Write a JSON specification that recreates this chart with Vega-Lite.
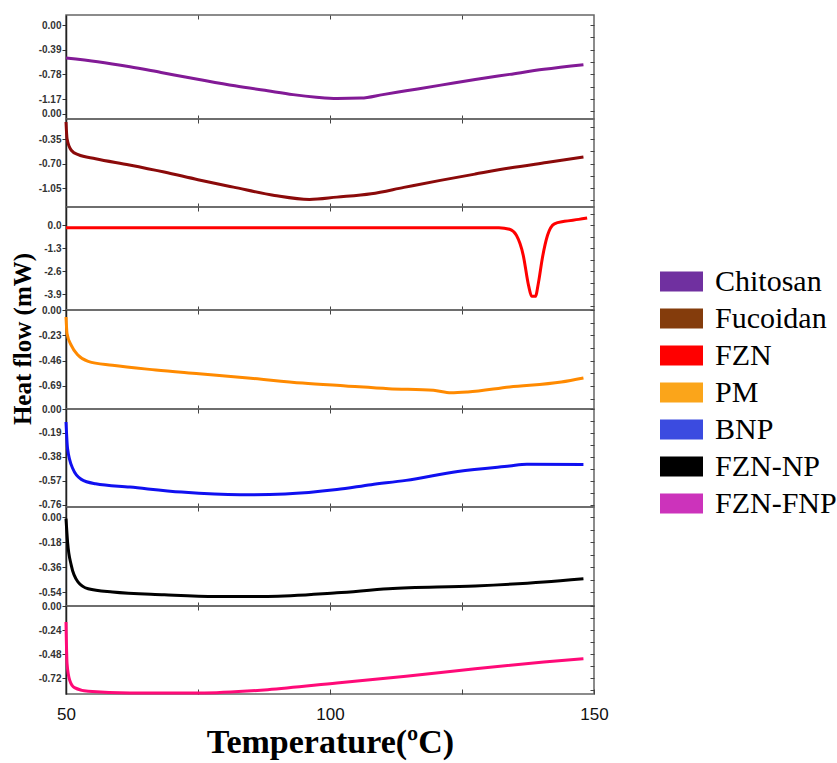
{
  "$schema": "https://vega.github.io/schema/vega-lite/v6.json",
  "background": "white",
  "padding": {"left": 9, "top": 13, "right": 240, "bottom": 5},
  "spacing": 0,
  "bounds": "flush",
  "datasets": {
    "dsc": [
      {"series": "Chitosan", "temp": 50, "heat": -0.52},
      {"series": "Chitosan", "temp": 56, "heat": -0.58},
      {"series": "Chitosan", "temp": 62.1, "heat": -0.66},
      {"series": "Chitosan", "temp": 68, "heat": -0.75},
      {"series": "Chitosan", "temp": 75.2, "heat": -0.86},
      {"series": "Chitosan", "temp": 82, "heat": -0.96},
      {"series": "Chitosan", "temp": 88.2, "heat": -1.04},
      {"series": "Chitosan", "temp": 93, "heat": -1.1},
      {"series": "Chitosan", "temp": 97.4, "heat": -1.14},
      {"series": "Chitosan", "temp": 101.3, "heat": -1.16},
      {"series": "Chitosan", "temp": 105.9, "heat": -1.155},
      {"series": "Chitosan", "temp": 110, "heat": -1.1},
      {"series": "Chitosan", "temp": 114.4, "heat": -1.04},
      {"series": "Chitosan", "temp": 121, "heat": -0.95},
      {"series": "Chitosan", "temp": 127.5, "heat": -0.86},
      {"series": "Chitosan", "temp": 134, "heat": -0.78},
      {"series": "Chitosan", "temp": 140.5, "heat": -0.7},
      {"series": "Chitosan", "temp": 148, "heat": -0.627},
      {"series": "Fucoidan", "temp": 50, "heat": -0.107},
      {"series": "Fucoidan", "temp": 50.2, "heat": -0.345},
      {"series": "Fucoidan", "temp": 51, "heat": -0.51},
      {"series": "Fucoidan", "temp": 52.3, "heat": -0.574},
      {"series": "Fucoidan", "temp": 55.6, "heat": -0.631},
      {"series": "Fucoidan", "temp": 62, "heat": -0.72},
      {"series": "Fucoidan", "temp": 68.6, "heat": -0.821},
      {"series": "Fucoidan", "temp": 75, "heat": -0.93},
      {"series": "Fucoidan", "temp": 81.7, "heat": -1.036},
      {"series": "Fucoidan", "temp": 89.5, "heat": -1.155},
      {"series": "Fucoidan", "temp": 96.1, "heat": -1.212},
      {"series": "Fucoidan", "temp": 101.3, "heat": -1.179},
      {"series": "Fucoidan", "temp": 107.8, "heat": -1.131},
      {"series": "Fucoidan", "temp": 114, "heat": -1.04},
      {"series": "Fucoidan", "temp": 120.9, "heat": -0.94},
      {"series": "Fucoidan", "temp": 127.5, "heat": -0.85},
      {"series": "Fucoidan", "temp": 134, "heat": -0.764},
      {"series": "Fucoidan", "temp": 141, "heat": -0.685},
      {"series": "Fucoidan", "temp": 148, "heat": -0.607},
      {"series": "FZN", "temp": 50, "heat": -0.15},
      {"series": "FZN", "temp": 132, "heat": -0.15},
      {"series": "FZN", "temp": 134, "heat": -0.24},
      {"series": "FZN", "temp": 135.3, "heat": -0.58},
      {"series": "FZN", "temp": 136.6, "heat": -1.71},
      {"series": "FZN", "temp": 137.6, "heat": -3.41},
      {"series": "FZN", "temp": 138.2, "heat": -4.03},
      {"series": "FZN", "temp": 138.9, "heat": -4.03},
      {"series": "FZN", "temp": 139.5, "heat": -3.22},
      {"series": "FZN", "temp": 140.2, "heat": -1.9},
      {"series": "FZN", "temp": 141.2, "heat": -0.58},
      {"series": "FZN", "temp": 142.5, "heat": 0.07},
      {"series": "FZN", "temp": 144.4, "heat": 0.21},
      {"series": "FZN", "temp": 147.1, "heat": 0.32},
      {"series": "FZN", "temp": 148.7, "heat": 0.4},
      {"series": "PM", "temp": 50, "heat": -0.064},
      {"series": "PM", "temp": 50.2, "heat": -0.215},
      {"series": "PM", "temp": 51, "heat": -0.321},
      {"series": "PM", "temp": 52.3, "heat": -0.412},
      {"series": "PM", "temp": 54.2, "heat": -0.467},
      {"series": "PM", "temp": 58.8, "heat": -0.503},
      {"series": "PM", "temp": 67, "heat": -0.545},
      {"series": "PM", "temp": 75.2, "heat": -0.579},
      {"series": "PM", "temp": 85, "heat": -0.62},
      {"series": "PM", "temp": 94.8, "heat": -0.664},
      {"series": "PM", "temp": 103, "heat": -0.69},
      {"series": "PM", "temp": 111.1, "heat": -0.715},
      {"series": "PM", "temp": 119.6, "heat": -0.73},
      {"series": "PM", "temp": 122.9, "heat": -0.752},
      {"series": "PM", "temp": 126.1, "heat": -0.745},
      {"series": "PM", "temp": 134, "heat": -0.7},
      {"series": "PM", "temp": 143.8, "heat": -0.655},
      {"series": "PM", "temp": 148, "heat": -0.618},
      {"series": "BNP", "temp": 50, "heat": -0.103},
      {"series": "BNP", "temp": 50.3, "heat": -0.315},
      {"series": "BNP", "temp": 51.3, "heat": -0.474},
      {"series": "BNP", "temp": 52.9, "heat": -0.558},
      {"series": "BNP", "temp": 55.6, "heat": -0.593},
      {"series": "BNP", "temp": 62.1, "heat": -0.619},
      {"series": "BNP", "temp": 71.9, "heat": -0.659},
      {"series": "BNP", "temp": 83, "heat": -0.68},
      {"series": "BNP", "temp": 91.5, "heat": -0.673},
      {"series": "BNP", "temp": 101.3, "heat": -0.638},
      {"series": "BNP", "temp": 107.8, "heat": -0.6},
      {"series": "BNP", "temp": 114.4, "heat": -0.566},
      {"series": "BNP", "temp": 124.2, "heat": -0.495},
      {"series": "BNP", "temp": 134, "heat": -0.452},
      {"series": "BNP", "temp": 137.3, "heat": -0.439},
      {"series": "BNP", "temp": 148, "heat": -0.44},
      {"series": "FZN-NP", "temp": 50, "heat": -0.012},
      {"series": "FZN-NP", "temp": 50.3, "heat": -0.18},
      {"series": "FZN-NP", "temp": 51, "heat": -0.348},
      {"series": "FZN-NP", "temp": 52.3, "heat": -0.468},
      {"series": "FZN-NP", "temp": 54.2, "heat": -0.516},
      {"series": "FZN-NP", "temp": 58.8, "heat": -0.54},
      {"series": "FZN-NP", "temp": 68.6, "heat": -0.559},
      {"series": "FZN-NP", "temp": 78.4, "heat": -0.571},
      {"series": "FZN-NP", "temp": 88.2, "heat": -0.571},
      {"series": "FZN-NP", "temp": 101.3, "heat": -0.545},
      {"series": "FZN-NP", "temp": 111.1, "heat": -0.516},
      {"series": "FZN-NP", "temp": 127.5, "heat": -0.496},
      {"series": "FZN-NP", "temp": 140.5, "heat": -0.468},
      {"series": "FZN-NP", "temp": 148, "heat": -0.444},
      {"series": "FZN-FNP", "temp": 50, "heat": -0.16},
      {"series": "FZN-FNP", "temp": 50.2, "heat": -0.577},
      {"series": "FZN-FNP", "temp": 50.7, "heat": -0.743},
      {"series": "FZN-FNP", "temp": 51.6, "heat": -0.817},
      {"series": "FZN-FNP", "temp": 54.2, "heat": -0.853},
      {"series": "FZN-FNP", "temp": 62.1, "heat": -0.87},
      {"series": "FZN-FNP", "temp": 75.2, "heat": -0.87},
      {"series": "FZN-FNP", "temp": 88.2, "heat": -0.837},
      {"series": "FZN-FNP", "temp": 101.3, "heat": -0.77},
      {"series": "FZN-FNP", "temp": 114.4, "heat": -0.703},
      {"series": "FZN-FNP", "temp": 127.5, "heat": -0.627},
      {"series": "FZN-FNP", "temp": 140.5, "heat": -0.56},
      {"series": "FZN-FNP", "temp": 148, "heat": -0.527}
    ]
  },
  "vconcat": [
    {
      "width": 528, "height": 104,
      "data": {"name": "dsc"},
      "resolve": {"axis": {"x": "independent", "y": "independent"}},
      "layer": [
        {
          "transform": [{"filter": "datum.series == 'Chitosan'"}],
          "mark": {"type": "line", "strokeWidth": 3, "color": "#821A96", "interpolate": "monotone"},
          "encoding": {
            "x": {"field": "temp", "type": "quantitative", "scale": {"domain": [50, 150], "nice": false, "zero": false}, "axis": {"orient": "bottom", "values": [75, 100, 125], "tickSize": -4, "labels": false, "domain": false, "title": null, "grid": false, "tickColor": "#444"}},
            "y": {"field": "heat", "type": "quantitative", "scale": {"domain": [-1.485, 0.158], "nice": false, "zero": false}, "axis": {"orient": "left", "values": [0, -0.39, -0.78, -1.17, -1.406], "format": ".2f", "labelExpr": "datum.value < -1.3 ? '0.00' : replace(datum.label, '\u2212', '-')", "title": null}}
          }
        },
        {
          "transform": [{"filter": "datum.series == 'Chitosan'"}],
          "mark": {"type": "line", "opacity": 0},
          "encoding": {
            "x": {"field": "temp", "type": "quantitative", "axis": {"orient": "top", "values": [75, 100, 125], "tickSize": -4, "labels": false, "domain": false, "title": null, "grid": false, "tickColor": "#444"}},
            "y": {"field": "heat", "type": "quantitative", "axis": {"orient": "right", "values": [0, -0.195, -0.39, -0.585, -0.78, -0.975, -1.17, -1.365], "tickSize": -4, "labels": false, "domain": false, "title": null, "grid": false, "tickColor": "#444"}}
          }
        },
        {
          "transform": [{"filter": "datum.series == 'none'"}],
          "mark": {"type": "square", "opacity": 1},
          "encoding": {
            "fill": {"field": "series", "type": "nominal", "scale": {"domain": ["Chitosan", "Fucoidan", "FZN", "PM", "BNP", "FZN-NP", "FZN-FNP"], "range": ["#7030A0", "#843C0C", "#FF0000", "#FBA51A", "#3B4BE0", "#000000", "#CC33BB"]},
              "legend": {"orient": "none", "legendX": 594, "legendY": 245, "title": null, "padding": 0, "symbolType": "M-1,-0.465H1V0.465H-1Z", "symbolSize": 1849, "symbolStrokeWidth": 0, "labelFont": "Liberation Serif, Times New Roman, serif", "labelFontWeight": "normal", "labelFontSize": 30, "labelColor": "#000", "labelOffset": 12, "rowPadding": -2.2}}
          }
        }
      ]
    },
    {
      "width": 528, "height": 88,
      "data": {"name": "dsc"},
      "resolve": {"axis": {"x": "independent", "y": "independent"}},
      "layer": [
        {
          "transform": [{"filter": "datum.series == 'Fucoidan'"}],
          "mark": {"type": "line", "strokeWidth": 3, "color": "#8B0A0A", "interpolate": "monotone"},
          "encoding": {
            "x": {"field": "temp", "type": "quantitative", "scale": {"domain": [50, 150], "nice": false, "zero": false}, "axis": {"orient": "bottom", "values": [75, 100, 125], "tickSize": -4, "labels": false, "domain": false, "title": null, "grid": false, "tickColor": "#444"}},
            "y": {"field": "heat", "type": "quantitative", "scale": {"domain": [-1.32, -0.064], "nice": false, "zero": false}, "axis": {"orient": "left", "values": [-0.35, -0.7, -1.05], "format": ".2f", "labelExpr": "replace(datum.label, '\u2212', '-')", "title": null}}
          }
        },
        {
          "transform": [{"filter": "datum.series == 'Fucoidan'"}],
          "mark": {"type": "line", "opacity": 0},
          "encoding": {
            "x": {"field": "temp", "type": "quantitative", "axis": {"orient": "top", "values": [75, 100, 125], "tickSize": -4, "labels": false, "domain": false, "title": null, "grid": false, "tickColor": "#444"}},
            "y": {"field": "heat", "type": "quantitative", "axis": {"orient": "right", "values": [-0.175, -0.35, -0.525, -0.7, -0.875, -1.05, -1.225], "tickSize": -4, "labels": false, "domain": false, "title": null, "grid": false, "tickColor": "#444"}}
          }
        }
      ]
    },
    {
      "width": 528, "height": 103,
      "data": {"name": "dsc"},
      "resolve": {"axis": {"x": "independent", "y": "independent"}},
      "layer": [
        {
          "transform": [{"filter": "datum.series == 'FZN'"}],
          "mark": {"type": "line", "strokeWidth": 3, "color": "#FF0000", "interpolate": "monotone"},
          "encoding": {
            "x": {"field": "temp", "type": "quantitative", "scale": {"domain": [50, 150], "nice": false, "zero": false}, "axis": {"orient": "bottom", "values": [75, 100, 125], "tickSize": -4, "labels": false, "domain": false, "title": null, "grid": false, "tickColor": "#444"}},
            "y": {"field": "heat", "type": "quantitative", "scale": {"domain": [-4.8, 1.02], "nice": false, "zero": false}, "axis": {"orient": "left", "values": [0, -1.3, -2.6, -3.9], "format": ".1f", "labelExpr": "replace(datum.label, '\u2212', '-')", "title": null}}
          }
        },
        {
          "transform": [{"filter": "datum.series == 'FZN'"}],
          "mark": {"type": "line", "opacity": 0},
          "encoding": {
            "x": {"field": "temp", "type": "quantitative", "axis": {"orient": "top", "values": [75, 100, 125], "tickSize": -4, "labels": false, "domain": false, "title": null, "grid": false, "tickColor": "#444"}},
            "y": {"field": "heat", "type": "quantitative", "axis": {"orient": "right", "values": [0.65, 0, -0.65, -1.3, -1.95, -2.6, -3.25, -3.9, -4.55], "tickSize": -4, "labels": false, "domain": false, "title": null, "grid": false, "tickColor": "#444"}}
          }
        }
      ]
    },
    {
      "width": 528, "height": 99,
      "data": {"name": "dsc"},
      "resolve": {"axis": {"x": "independent", "y": "independent"}},
      "layer": [
        {
          "transform": [{"filter": "datum.series == 'PM'"}],
          "mark": {"type": "line", "strokeWidth": 3, "color": "#FF8A00", "interpolate": "monotone"},
          "encoding": {
            "x": {"field": "temp", "type": "quantitative", "scale": {"domain": [50, 150], "nice": false, "zero": false}, "axis": {"orient": "bottom", "values": [75, 100, 125], "tickSize": -4, "labels": false, "domain": false, "title": null, "grid": false, "tickColor": "#444"}},
            "y": {"field": "heat", "type": "quantitative", "scale": {"domain": [-0.9, 0], "nice": false, "zero": false}, "axis": {"orient": "left", "values": [0, -0.23, -0.46, -0.69], "format": ".2f", "labelExpr": "replace(datum.label, '\u2212', '-')", "title": "Heat flow (mW)", "titleFont": "Liberation Serif", "titleFontWeight": "bold", "titleFontSize": 25, "titleColor": "#000", "titleAngle": 270, "titleX": -44, "titleY": 28.5, "titleAlign": "center", "titleBaseline": "middle"}}
          }
        },
        {
          "transform": [{"filter": "datum.series == 'PM'"}],
          "mark": {"type": "line", "opacity": 0},
          "encoding": {
            "x": {"field": "temp", "type": "quantitative", "axis": {"orient": "top", "values": [75, 100, 125], "tickSize": -4, "labels": false, "domain": false, "title": null, "grid": false, "tickColor": "#444"}},
            "y": {"field": "heat", "type": "quantitative", "axis": {"orient": "right", "values": [0, -0.115, -0.23, -0.345, -0.46, -0.575, -0.69, -0.805], "tickSize": -4, "labels": false, "domain": false, "title": null, "grid": false, "tickColor": "#444"}}
          }
        }
      ]
    },
    {
      "width": 528, "height": 98,
      "data": {"name": "dsc"},
      "resolve": {"axis": {"x": "independent", "y": "independent"}},
      "layer": [
        {
          "transform": [{"filter": "datum.series == 'BNP'"}],
          "mark": {"type": "line", "strokeWidth": 3, "color": "#1010F0", "interpolate": "monotone"},
          "encoding": {
            "x": {"field": "temp", "type": "quantitative", "scale": {"domain": [50, 150], "nice": false, "zero": false}, "axis": {"orient": "bottom", "values": [75, 100, 125], "tickSize": -4, "labels": false, "domain": false, "title": null, "grid": false, "tickColor": "#444"}},
            "y": {"field": "heat", "type": "quantitative", "scale": {"domain": [-0.777, 0], "nice": false, "zero": false}, "axis": {"orient": "left", "values": [0, -0.19, -0.38, -0.57, -0.76], "format": ".2f", "labelExpr": "replace(datum.label, '\u2212', '-')", "title": null}}
          }
        },
        {
          "transform": [{"filter": "datum.series == 'BNP'"}],
          "mark": {"type": "line", "opacity": 0},
          "encoding": {
            "x": {"field": "temp", "type": "quantitative", "axis": {"orient": "top", "values": [75, 100, 125], "tickSize": -4, "labels": false, "domain": false, "title": null, "grid": false, "tickColor": "#444"}},
            "y": {"field": "heat", "type": "quantitative", "axis": {"orient": "right", "values": [0, -0.095, -0.19, -0.285, -0.38, -0.475, -0.57, -0.665, -0.76], "tickSize": -4, "labels": false, "domain": false, "title": null, "grid": false, "tickColor": "#444"}}
          }
        }
      ]
    },
    {
      "width": 528, "height": 99,
      "data": {"name": "dsc"},
      "resolve": {"axis": {"x": "independent", "y": "independent"}},
      "layer": [
        {
          "transform": [{"filter": "datum.series == 'FZN-NP'"}],
          "mark": {"type": "line", "strokeWidth": 3, "color": "#000000", "interpolate": "monotone"},
          "encoding": {
            "x": {"field": "temp", "type": "quantitative", "scale": {"domain": [50, 150], "nice": false, "zero": false}, "axis": {"orient": "bottom", "values": [75, 100, 125], "tickSize": -4, "labels": false, "domain": false, "title": null, "grid": false, "tickColor": "#444"}},
            "y": {"field": "heat", "type": "quantitative", "scale": {"domain": [-0.64, 0.072], "nice": false, "zero": false}, "axis": {"orient": "left", "values": [0, -0.18, -0.36, -0.54], "format": ".2f", "labelExpr": "replace(datum.label, '\u2212', '-')", "title": null}}
          }
        },
        {
          "transform": [{"filter": "datum.series == 'FZN-NP'"}],
          "mark": {"type": "line", "opacity": 0},
          "encoding": {
            "x": {"field": "temp", "type": "quantitative", "axis": {"orient": "top", "values": [75, 100, 125], "tickSize": -4, "labels": false, "domain": false, "title": null, "grid": false, "tickColor": "#444"}},
            "y": {"field": "heat", "type": "quantitative", "axis": {"orient": "right", "values": [0, -0.09, -0.18, -0.27, -0.36, -0.45, -0.54, -0.63], "tickSize": -4, "labels": false, "domain": false, "title": null, "grid": false, "tickColor": "#444"}}
          }
        }
      ]
    },
    {
      "width": 528, "height": 88,
      "data": {"name": "dsc"},
      "resolve": {"axis": {"x": "independent", "y": "independent"}},
      "layer": [
        {
          "transform": [{"filter": "datum.series == 'FZN-FNP'"}],
          "mark": {"type": "line", "strokeWidth": 3, "color": "#FF0A78", "interpolate": "monotone"},
          "encoding": {
            "x": {"field": "temp", "type": "quantitative", "scale": {"domain": [50, 150], "nice": false, "zero": false}, "axis": {"orient": "bottom", "values": [50, 75, 100, 125, 150], "tickSize": -5, "tickColor": "#444", "labelExpr": "datum.value % 50 == 0 ? datum.label : ''", "labelFlush": false, "labelFont": "Liberation Sans", "labelFontSize": 17, "labelColor": "#111", "labelPadding": 17, "domain": false, "grid": false, "title": "Temperature(ºC)", "titleFont": "Liberation Serif", "titleFontWeight": "bold", "titleFontSize": 34, "titleColor": "#000", "titlePadding": 3}},
            "y": {"field": "heat", "type": "quantitative", "scale": {"domain": [-0.88, 0], "nice": false, "zero": false}, "axis": {"orient": "left", "values": [0, -0.24, -0.48, -0.72], "format": ".2f", "labelExpr": "replace(datum.label, '\u2212', '-')", "title": null}}
          }
        },
        {
          "transform": [{"filter": "datum.series == 'FZN-FNP'"}],
          "mark": {"type": "line", "opacity": 0},
          "encoding": {
            "x": {"field": "temp", "type": "quantitative", "axis": {"orient": "top", "values": [75, 100, 125], "tickSize": -4, "labels": false, "domain": false, "title": null, "grid": false, "tickColor": "#444"}},
            "y": {"field": "heat", "type": "quantitative", "axis": {"orient": "right", "values": [0, -0.12, -0.24, -0.36, -0.48, -0.6, -0.72, -0.84], "tickSize": -4, "labels": false, "domain": false, "title": null, "grid": false, "tickColor": "#444"}}
          }
        }
      ]
    }
  ],
  "config": {
    "view": {"stroke": "#666", "strokeWidth": 1.5},
    "axis": {"grid": false},
    "axisLeft": {"tickSize": 4, "tickColor": "#333", "domain": true, "domainColor": "#222", "domainWidth": 1.5, "labelFont": "Liberation Sans", "labelFontSize": 10, "labelFontWeight": "bold", "labelColor": "#333", "labelPadding": 1, "grid": false}
  }
}
